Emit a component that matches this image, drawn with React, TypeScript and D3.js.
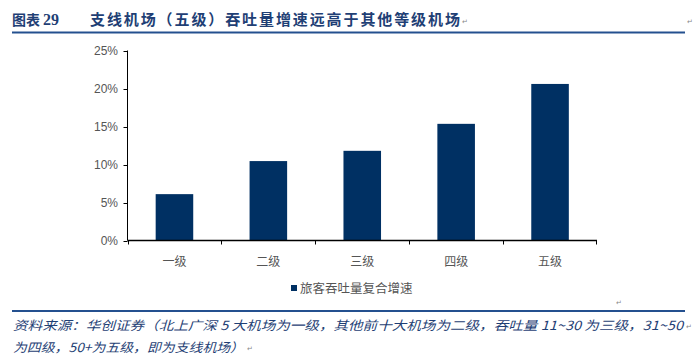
import React from "react";
import * as d3 from "d3";

const categories = ["一级", "二级", "三级", "四级", "五级"];
const growth = [6.1, 10.45, 11.8, 15.35, 20.6];
const yTicks = [0, 5, 10, 15, 20, 25];
const titleLabel = "图表";
const titleNum = "29";
const titleMain = "支线机场（五级）吞吐量增速远高于其他等级机场";
const seriesName = "旅客吞吐量复合增速";
const source1 = "资料来源：华创证券（北上广深 5 大机场为一级，其他前十大机场为二级，吞吐量 11~30 为三级，31~50";
const source2 = "为四级，50+为五级，即为支线机场）";

const W = 700;
const H = 364;
const plot = { left: 127.5, right: 597, top: 50.5, bottom: 240.5 };
const navy = "#003063";
const cjk = "'Noto Sans CJK SC', 'Noto Sans', sans-serif";

export default function App() {
  const x = d3.scaleBand<string>().domain(categories).range([plot.left, plot.right]).paddingInner(0.6).paddingOuter(0.3);
  const band = d3.scaleBand<string>().domain(categories).range([plot.left, plot.right]);
  const y = d3.scaleLinear().domain([0, 25]).range([plot.bottom, plot.top]);

  return (
    <svg width={W} height={H} style={{ position: "absolute", left: 0, top: 0, background: "#fff" }}>
      <rect x={0} y={0} width={W} height={H} fill="#fff" />
      {/* title */}
      <text x={12} y={25} fontFamily={cjk} fontWeight="bold" fontSize={14} fill="#1F3F75">
        {titleLabel}
      </text>
      <text x={43} y={25} fontFamily="'Liberation Serif', serif" fontWeight="bold" fontSize={16} fill="#1F3F75">
        {titleNum}
      </text>
      <text x={90} y={25} fontFamily={cjk} fontWeight="bold" fontSize={15} fill="#1F3F75" letterSpacing={1.9}>
        {titleMain}
      </text>
      <text x={462} y={24} fontFamily={cjk} fontSize={7} fill="#888">↵</text>
      <text x={687} y={24} fontFamily={cjk} fontSize={7} fill="#888">↵</text>
      <line x1={12} x2={685} y1={32.5} y2={32.5} stroke="#24508F" strokeWidth={2} />

      {/* y axis */}
      <line x1={plot.left} x2={plot.left} y1={plot.top} y2={plot.bottom} stroke="#000" strokeWidth={1} />
      {yTicks.map((t) => (
        <g key={t}>
          <line x1={plot.left - 4} x2={plot.left} y1={Math.round(y(t)) + 0.5} y2={Math.round(y(t)) + 0.5} stroke="#000" />
          <text x={118} y={y(t) + 4} textAnchor="end" fontFamily="'Liberation Sans', Arial, sans-serif" fontSize={12} fill="#555">
            {t}%
          </text>
        </g>
      ))}

      {/* bars */}
      {categories.map((c, i) => (
        <rect key={c} x={x(c)} y={y(growth[i])} width={x.bandwidth()} height={y(0) - y(growth[i])} fill={navy} />
      ))}

      {/* x axis */}
      <line x1={plot.left} x2={plot.right} y1={plot.bottom} y2={plot.bottom} stroke="#000" strokeWidth={1.5} />
      {categories.map((c) => (
        <line key={"t" + c} x1={Math.round(band(c)!) + 0.5} x2={Math.round(band(c)!) + 0.5} y1={plot.bottom} y2={plot.bottom + 4} stroke="#000" />
      ))}
      <line x1={plot.right - 0.5} x2={plot.right - 0.5} y1={plot.bottom} y2={plot.bottom + 4} stroke="#000" />
      {categories.map((c) => (
        <text key={"l" + c} x={band(c)! + band.bandwidth() / 2} y={266} textAnchor="middle" fontFamily={cjk} fontSize={12} fill="#555">
          {c}
        </text>
      ))}

      {/* legend */}
      <rect x={291} y={285} width={6} height={6} fill={navy} />
      <text x={300} y={292.5} fontFamily={cjk} fontSize={12.5} fill="#555">
        {seriesName}
      </text>

      {/* source */}
      <line x1={12} x2={685} y1={311} y2={311} stroke="#24508F" strokeWidth={2} />
      <text x={616} y={305} fontFamily={cjk} fontSize={7} fill="#888">↵</text>
      <text x={13} y={330} fontFamily={cjk} fontStyle="italic" fontSize={12.5} fill="#1F3F75" textLength={670} lengthAdjust="spacingAndGlyphs">
        {source1}
      </text>
      <text x={686} y={329} fontFamily={cjk} fontSize={7} fill="#888">↵</text>
      <text x={13} y={352} fontFamily={cjk} fontStyle="italic" fontSize={12.5} fill="#1F3F75" textLength={231} lengthAdjust="spacingAndGlyphs">
        {source2}
      </text>
      <text x={247} y={351} fontFamily={cjk} fontSize={7} fill="#888">↵</text>
    </svg>
  );
}
